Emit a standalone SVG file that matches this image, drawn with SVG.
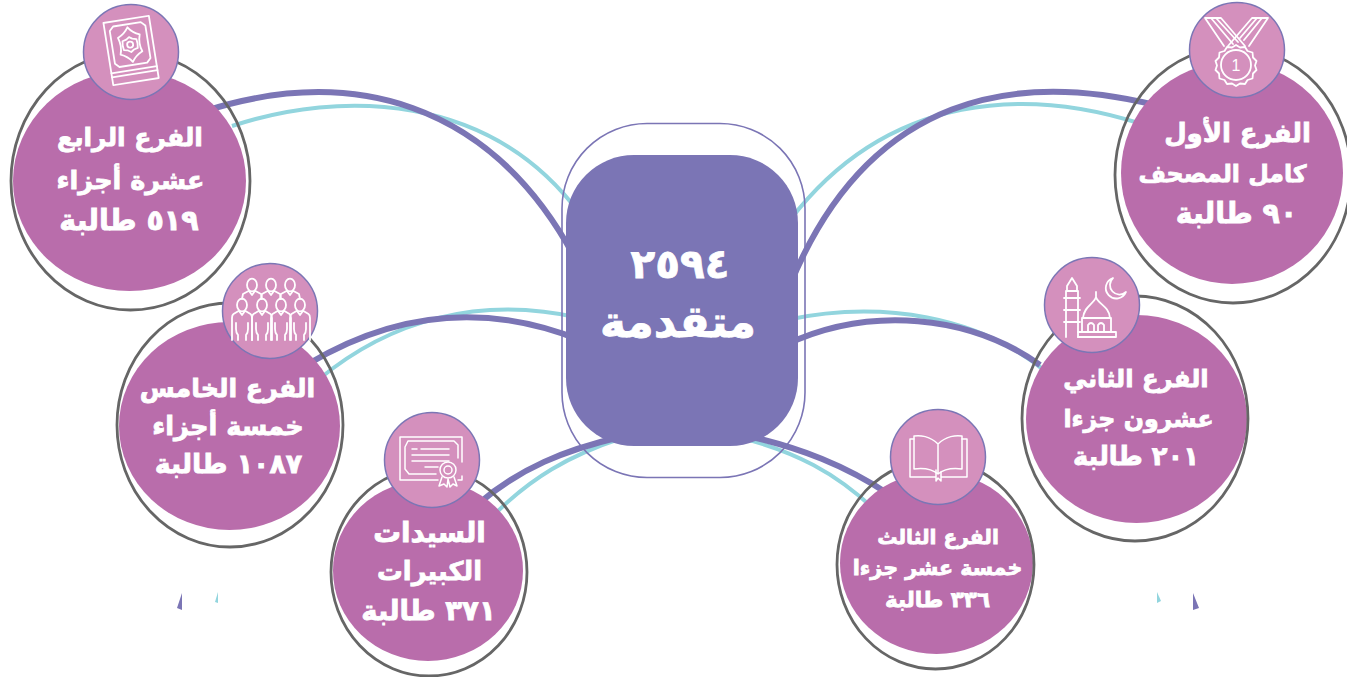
<svg xmlns="http://www.w3.org/2000/svg" width="1347" height="677" viewBox="0 0 1347 677">
<style>
.bg{fill:#fff}
.p{fill:none;stroke:#7b75b5;stroke-width:6}
.t{fill:none;stroke:#92d5de;stroke-width:4}
.o{fill:none;stroke:#666;stroke-width:2.8}
.f{fill:#b96dab}
.ic{fill:#d490bd;stroke:#7b76b5;stroke-width:1.5}
.w{fill:none;stroke:#fff;stroke-width:1.8;stroke-linejoin:round;stroke-linecap:round}
text{font-family:"DejaVu Sans",sans-serif;font-weight:700;fill:#fff;stroke:#fff;stroke-width:.8;text-anchor:middle;direction:rtl}
</style>
<defs>
<g id="back" class="w"><ellipse cx="0" cy="0" rx="5" ry="6.3"/><path d="M-3,6 L0,10 L3,6 M-3.5,6 L-9,9 L-10,14 M3.5,6 L9,9 L10,14"/></g>
<g id="front" class="w"><ellipse cx="0" cy="0" rx="5" ry="6.3"/><path d="M-3,6 L0,10 L3,6 M-3.5,6 L-8.5,9 Q-10,10 -10,13 L-10,35 M3.5,6 L8.5,9 Q10,10 10,13 L10,35 M-6,18 L-6,24 Q-6,28 -4,30 L-4,35 M6,18 L6,24 Q6,28 4,30 L4,35"/></g>
</defs>
<rect class="bg" width="1347" height="677"/>
<g id="connectors">
<path class="t" d="M232,126 C340,90 490,92 580,214"/>
<path class="p" d="M205,111 C350,65 490,100 575,258"/>
<path class="t" d="M1142,124 C1030,88 890,90 790,220"/>
<path class="p" d="M1155,105 C1020,72 870,90 790,285"/>
<path class="t" d="M318,380 C390,320 480,295 580,318"/>
<path class="p" d="M308,364 C390,315 480,300 580,340"/>
<path class="t" d="M786,320 C880,300 980,315 1050,375"/>
<path class="p" d="M785,345 C870,305 970,315 1040,365"/>
<path class="t" d="M492,517 C530,478 570,455 622,438"/>
<path class="p" d="M478,504 C520,468 565,450 620,437"/>
<path class="t" d="M742,438 C795,452 835,472 875,510"/>
<path class="p" d="M748,436 C800,448 845,465 890,495"/>
</g>
<g id="center">
<rect x="566" y="155" width="232" height="291" rx="68" fill="#7b75b5"/>
<rect x="562" y="123.500" width="243" height="354" rx="85" fill="none" stroke="#7b75b5" stroke-width="1.6"/>
<text font-size="40.500" x="680" y="278">٢٥٩٤</text>
<text font-size="44" x="678" y="337">متقدمة</text>
</g>
<g id="node4">
<ellipse class="f" cx="129.500" cy="181" rx="116.500" ry="110"/>
<ellipse class="o" cx="130.500" cy="181" rx="119.500" ry="129"/>
<circle class="ic" cx="131" cy="52" r="47.500"/>
<g class="w" transform="rotate(-9 131 50)">
<rect x="108" y="19" width="46" height="63"/>
<path d="M108,74 H154 M108,70 H154"/>
<path d="M117,24 H145 L149,28 V61 L145,65 H117 L113,61 V28Z"/>
<path d="M131,27 Q135,33 142,36 Q139,45 142,53 Q135,56 131,62 Q127,56 120,53 Q123,45 120,36 Q127,33 131,27Z"/>
<path d="M131,37 L134,39 L138,40 L138.500,44.500 L138,49 L134,50 L131,52 L128,50 L124,49 L123.500,44.500 L124,40 L128,39Z"/>
<circle cx="131" cy="44.500" r="3"/>
</g>
<text font-size="25" x="130" y="146">الفرع الرابع</text>
<text font-size="25.500" x="130.500" y="189">عشرة أجزاء</text>
<text font-size="28.500" x="129" y="230">٥١٩ طالبة</text>
</g>
<g id="node1">
<ellipse class="f" cx="1232" cy="173" rx="111" ry="111"/>
<ellipse class="o" cx="1233" cy="175" rx="118" ry="128"/>
<circle class="ic" cx="1237" cy="50" r="47.500"/>
<g class="w">
<path d="M1205,18 H1221 L1245,46 M1205,18 L1224,46 M1211,18 L1233,44 M1216,18 L1238,42"/>
<path d="M1268,18 H1252 L1228,46 M1268,18 L1249,46 M1262,18 L1244,40 M1257,18 L1240,38"/>
<circle cx="1236" cy="65" r="15"/>
<path d="M1236,45 l4,2.500 5,-.5 2.500,4 5,1.500 .5,5 3.500,3.500 -1.500,4.500 1.500,4.500 -3.500,3.500 -.5,5 -5,1.500 -2.500,4 -5,-.5 -4,2.500 -4,-2.500 -5,.5 -2.500,-4 -5,-1.500 -.5,-5 -3.500,-3.500 1.500,-4.500 -1.500,-4.500 3.500,-3.500 .5,-5 5,-1.500 2.500,-4 5,.5Z"/>
</g>
<text x="1236" y="71" style="font-size:16px;font-weight:400;stroke-width:0;font-family:'Liberation Sans',sans-serif;direction:ltr">1</text>
<text font-size="25.900" x="1237.500" y="142">الفرع الأول</text>
<text font-size="23.700" x="1222.500" y="182">كامل المصحف</text>
<text font-size="28.400" x="1236.500" y="223">٩٠ طالبة</text>
</g>
<g id="node2">
<ellipse class="f" cx="1136.500" cy="419" rx="110.500" ry="104"/>
<ellipse class="o" cx="1135" cy="418.500" rx="113" ry="122.500"/>
<circle class="ic" cx="1092" cy="305" r="47.500"/>
<g class="w">
<path d="M1066,337 V291 H1078 V337 M1067,286 L1072,278 L1077,286 V291 H1067Z M1064,298 H1080 M1064,310 H1080 M1064,322 H1080"/>
<path d="M1078,337 H1116 V332 H1078 M1082,332 V318 H1111 V332 M1083,318 C1084,306 1094,304 1096,297 C1098,304 1109,306 1110,318 M1096,297 V292"/>
<path d="M1088,332 V325 Q1091,321 1094,325 V332 M1098,332 V325 Q1101,321 1104,325 V332"/>
<path d="M1113,278 A10.500,10.500 0 1 0 1126,292 A9,9 0 0 1 1113,278Z"/>
</g>
<text font-size="24.300" x="1136" y="387">الفرع الثاني</text>
<text font-size="23.700" x="1138.500" y="427">عشرون جزءا</text>
<text font-size="25.800" x="1136" y="465">٢٠١ طالبة</text>
</g>
<g id="node3">
<ellipse class="f" cx="936.500" cy="563" rx="96.500" ry="91"/>
<ellipse class="o" cx="935.500" cy="564.500" rx="98.500" ry="104.500"/>
<circle class="ic" cx="938" cy="457" r="47.500"/>
<g class="w" style="stroke-width:1.5">
<path d="M938,444 C930,436 920,435 914,436 V469 C922,468 932,469 938,474 C944,469 954,468 962,469 V436 C956,435 946,436 938,444 V474"/>
<path d="M914,439 H910 V477 H936 M962,439 H967 V477 H941 M936,470 V481 L938,478 L941,481 V472"/>
</g>
<text font-size="20.200" x="938" y="544">الفرع الثالث</text>
<text font-size="20.600" x="937.500" y="575">خمسة عشر جزءا</text>
<text font-size="21.500" x="937.500" y="607">٣٣٦ طالبة</text>
</g>
<g id="node5">
<ellipse class="f" cx="229.500" cy="426" rx="110.500" ry="104"/>
<ellipse class="o" cx="230" cy="425" rx="113" ry="122"/>
<circle class="ic" cx="270" cy="311" r="47.500"/>
<use href="#back" x="252" y="285"/><use href="#back" x="271" y="285"/><use href="#back" x="290" y="285"/>
<use href="#front" x="242" y="305"/><use href="#front" x="262" y="305"/><use href="#front" x="281" y="305"/><use href="#front" x="300" y="305"/>
<text font-size="25.300" x="227.500" y="397">الفرع الخامس</text>
<text font-size="25.700" x="228" y="435">خمسة أجزاء</text>
<text font-size="26.800" x="228.500" y="473">١٠٨٧ طالبة</text>
</g>
<g id="node6">
<ellipse class="f" cx="428" cy="570.500" rx="95" ry="90.500"/>
<ellipse class="o" cx="429" cy="572" rx="98" ry="104"/>
<circle class="ic" cx="432" cy="460" r="47.500"/>
<g class="w" style="stroke-width:1.5">
<path d="M438,480 H400 V437 H462 V462 M462,476 V480 H458"/>
<path d="M408,441 H454 L458,445 V458 M405,447 V469 L409,474 H436 M405,447 L408,441"/>
<path d="M412,449 H417 M421,449 H449 M412,455 H449 M412,461 H449 M425,467 H438"/>
<circle cx="448" cy="470" r="8"/><circle cx="448" cy="470" r="4"/>
<path d="M442,477 L439,486 L444,484 L447,487 L448,479 L450,487 L453,484 L457,486 L454,477"/>
</g>
<text font-size="27.700" x="429.500" y="542">السيدات</text>
<text font-size="25.700" x="429.500" y="580">الكبيرات</text>
<text font-size="27.500" x="428.500" y="620">٣٧١ طالبة</text>
</g>
<g id="accents">
<path d="M182,593 L177,608 L182,610Z" fill="#7b75b5"/>
<path d="M218,592 L215,602 L218,603Z" fill="#92d5de"/>
<path d="M1157,592 L1157,603 L1161,601Z" fill="#92d5de"/>
<path d="M1193,593 L1193,610 L1199,608Z" fill="#7b75b5"/>
</g>
</svg>
